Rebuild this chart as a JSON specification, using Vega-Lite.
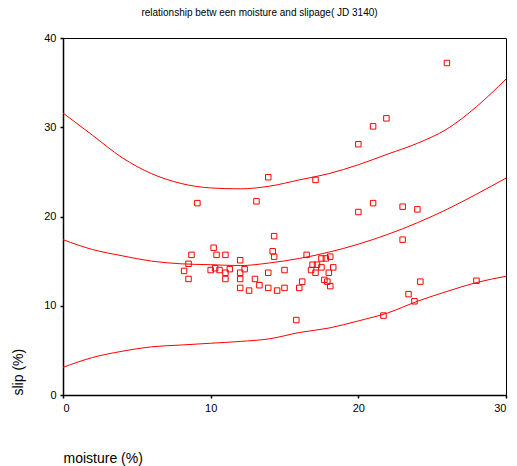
{
  "$schema": "https://vega.github.io/schema/vega-lite/v6.json",
  "autosize": "none",
  "width": 443,
  "height": 357,
  "padding": {"left": 63, "top": 38, "right": 11, "bottom": 71},
  "background": "white",
  "config": {
    "view": {"stroke": "black", "strokeWidth": 1},
    "font": "Liberation Sans",
    "axis": {"grid": false, "domainColor": "black", "domainWidth": 1.5, "tickColor": "black", "tickWidth": 1.5, "labelColor": "black", "titleColor": "black", "labelFont": "Liberation Sans", "titleFont": "Liberation Sans", "labelFontSize": 11, "titleFontSize": 14, "titleFontWeight": "normal", "tickSize": 3}
  },
  "title": {"text": "relationship betw een moisture and slipage( JD 3140)", "fontSize": 10, "fontWeight": "normal", "font": "Liberation Sans", "color": "black", "anchor": "middle", "dx": -25, "offset": 14},
  "datasets": {
    "points": [
      {"moisture": 26.0, "slip": 37.2}, {"moisture": 21.9, "slip": 31.0}, {"moisture": 21.0, "slip": 30.1},
      {"moisture": 20.0, "slip": 28.1}, {"moisture": 17.1, "slip": 24.1}, {"moisture": 20.0, "slip": 20.5},
      {"moisture": 21.0, "slip": 21.5}, {"moisture": 23.0, "slip": 21.1}, {"moisture": 24.0, "slip": 20.8},
      {"moisture": 23.0, "slip": 17.4}, {"moisture": 24.2, "slip": 12.7}, {"moisture": 23.4, "slip": 11.3},
      {"moisture": 23.8, "slip": 10.5}, {"moisture": 21.7, "slip": 8.9}, {"moisture": 28.0, "slip": 12.8},
      {"moisture": 14.3, "slip": 17.8}, {"moisture": 10.2, "slip": 16.5}, {"moisture": 10.4, "slip": 15.7},
      {"moisture": 11.0, "slip": 15.7}, {"moisture": 14.2, "slip": 16.1}, {"moisture": 14.3, "slip": 15.5},
      {"moisture": 12.0, "slip": 15.1}, {"moisture": 16.5, "slip": 15.7}, {"moisture": 17.5, "slip": 15.3},
      {"moisture": 17.8, "slip": 15.3}, {"moisture": 18.1, "slip": 15.5}, {"moisture": 10.0, "slip": 14.0},
      {"moisture": 10.3, "slip": 14.2}, {"moisture": 10.6, "slip": 14.0}, {"moisture": 11.3, "slip": 14.1},
      {"moisture": 11.0, "slip": 13.7}, {"moisture": 11.0, "slip": 13.0}, {"moisture": 12.3, "slip": 14.1},
      {"moisture": 12.0, "slip": 13.7}, {"moisture": 12.0, "slip": 13.0}, {"moisture": 13.0, "slip": 13.0},
      {"moisture": 13.3, "slip": 12.3}, {"moisture": 12.0, "slip": 12.0}, {"moisture": 12.6, "slip": 11.7},
      {"moisture": 13.9, "slip": 13.7}, {"moisture": 13.9, "slip": 12.0}, {"moisture": 14.5, "slip": 11.7},
      {"moisture": 15.0, "slip": 14.0}, {"moisture": 15.0, "slip": 12.0}, {"moisture": 16.0, "slip": 12.0},
      {"moisture": 16.2, "slip": 12.7}, {"moisture": 16.9, "slip": 14.6}, {"moisture": 17.2, "slip": 14.6},
      {"moisture": 16.8, "slip": 14.0}, {"moisture": 17.1, "slip": 13.7}, {"moisture": 17.5, "slip": 14.3},
      {"moisture": 18.0, "slip": 13.7}, {"moisture": 18.3, "slip": 14.3}, {"moisture": 17.7, "slip": 12.9},
      {"moisture": 17.9, "slip": 12.7}, {"moisture": 18.1, "slip": 12.2}, {"moisture": 15.8, "slip": 8.4},
      {"moisture": 8.7, "slip": 15.7}, {"moisture": 8.5, "slip": 14.7}, {"moisture": 8.2, "slip": 13.9},
      {"moisture": 8.5, "slip": 13.0}, {"moisture": 9.1, "slip": 21.5}, {"moisture": 13.1, "slip": 21.7},
      {"moisture": 13.9, "slip": 24.4}
    ],
    "curves": [
      {"band": "fit", "moisture": 0, "slip": 17.4}, {"band": "fit", "moisture": 2, "slip": 16.3},
      {"band": "fit", "moisture": 4, "slip": 15.6}, {"band": "fit", "moisture": 6, "slip": 15.0},
      {"band": "fit", "moisture": 8, "slip": 14.7}, {"band": "fit", "moisture": 10, "slip": 14.6},
      {"band": "fit", "moisture": 12, "slip": 14.5}, {"band": "fit", "moisture": 14, "slip": 14.8},
      {"band": "fit", "moisture": 16, "slip": 15.3}, {"band": "fit", "moisture": 18, "slip": 16.0},
      {"band": "fit", "moisture": 20, "slip": 16.9}, {"band": "fit", "moisture": 22, "slip": 18.0},
      {"band": "fit", "moisture": 24, "slip": 19.3}, {"band": "fit", "moisture": 26, "slip": 20.8},
      {"band": "fit", "moisture": 28, "slip": 22.5}, {"band": "fit", "moisture": 30, "slip": 24.3},
      {"band": "upper", "moisture": 0, "slip": 31.6}, {"band": "upper", "moisture": 2, "slip": 29.1},
      {"band": "upper", "moisture": 4, "slip": 26.6}, {"band": "upper", "moisture": 6, "slip": 24.8},
      {"band": "upper", "moisture": 8, "slip": 23.7}, {"band": "upper", "moisture": 10, "slip": 23.2},
      {"band": "upper", "moisture": 12, "slip": 23.1}, {"band": "upper", "moisture": 14, "slip": 23.4},
      {"band": "upper", "moisture": 16, "slip": 24.1}, {"band": "upper", "moisture": 18, "slip": 24.8},
      {"band": "upper", "moisture": 20, "slip": 25.8}, {"band": "upper", "moisture": 22, "slip": 27.0},
      {"band": "upper", "moisture": 24, "slip": 28.2}, {"band": "upper", "moisture": 26, "slip": 29.8},
      {"band": "upper", "moisture": 28, "slip": 32.3}, {"band": "upper", "moisture": 30, "slip": 35.4},
      {"band": "lower", "moisture": 0, "slip": 3.1}, {"band": "lower", "moisture": 2, "slip": 4.2},
      {"band": "lower", "moisture": 4, "slip": 4.9}, {"band": "lower", "moisture": 6, "slip": 5.4},
      {"band": "lower", "moisture": 8, "slip": 5.6}, {"band": "lower", "moisture": 10, "slip": 5.8},
      {"band": "lower", "moisture": 12, "slip": 6.0}, {"band": "lower", "moisture": 14, "slip": 6.3},
      {"band": "lower", "moisture": 16, "slip": 7.0}, {"band": "lower", "moisture": 18, "slip": 7.5},
      {"band": "lower", "moisture": 20, "slip": 8.3}, {"band": "lower", "moisture": 22, "slip": 9.2},
      {"band": "lower", "moisture": 24, "slip": 10.5}, {"band": "lower", "moisture": 26, "slip": 11.6},
      {"band": "lower", "moisture": 28, "slip": 12.6}, {"band": "lower", "moisture": 30, "slip": 13.3}
    ]
  },
  "layer": [
    {
      "data": {"name": "curves"},
      "mark": {"type": "line", "color": "#ff0000", "strokeWidth": 1, "interpolate": "monotone"},
      "encoding": {
        "x": {"field": "moisture", "type": "quantitative", "scale": {"domain": [0, 30], "nice": false},
          "axis": {"title": "moisture (%)", "values": [0, 10, 20, 30], "titleAnchor": "start", "titlePadding": 38, "labelPadding": 4}},
        "y": {"field": "slip", "type": "quantitative", "scale": {"domain": [0, 40], "nice": false},
          "axis": {"title": "slip (%)", "values": [0, 10, 20, 30, 40], "titleAnchor": "start", "titlePadding": 18, "labelPadding": 4}},
        "detail": {"field": "band", "type": "nominal"}
      }
    },
    {
      "data": {"name": "points"},
      "mark": {"type": "square", "filled": false, "color": "#ff0000", "size": 30, "strokeWidth": 1, "opacity": 1},
      "encoding": {
        "x": {"field": "moisture", "type": "quantitative"},
        "y": {"field": "slip", "type": "quantitative"}
      }
    }
  ]
}
